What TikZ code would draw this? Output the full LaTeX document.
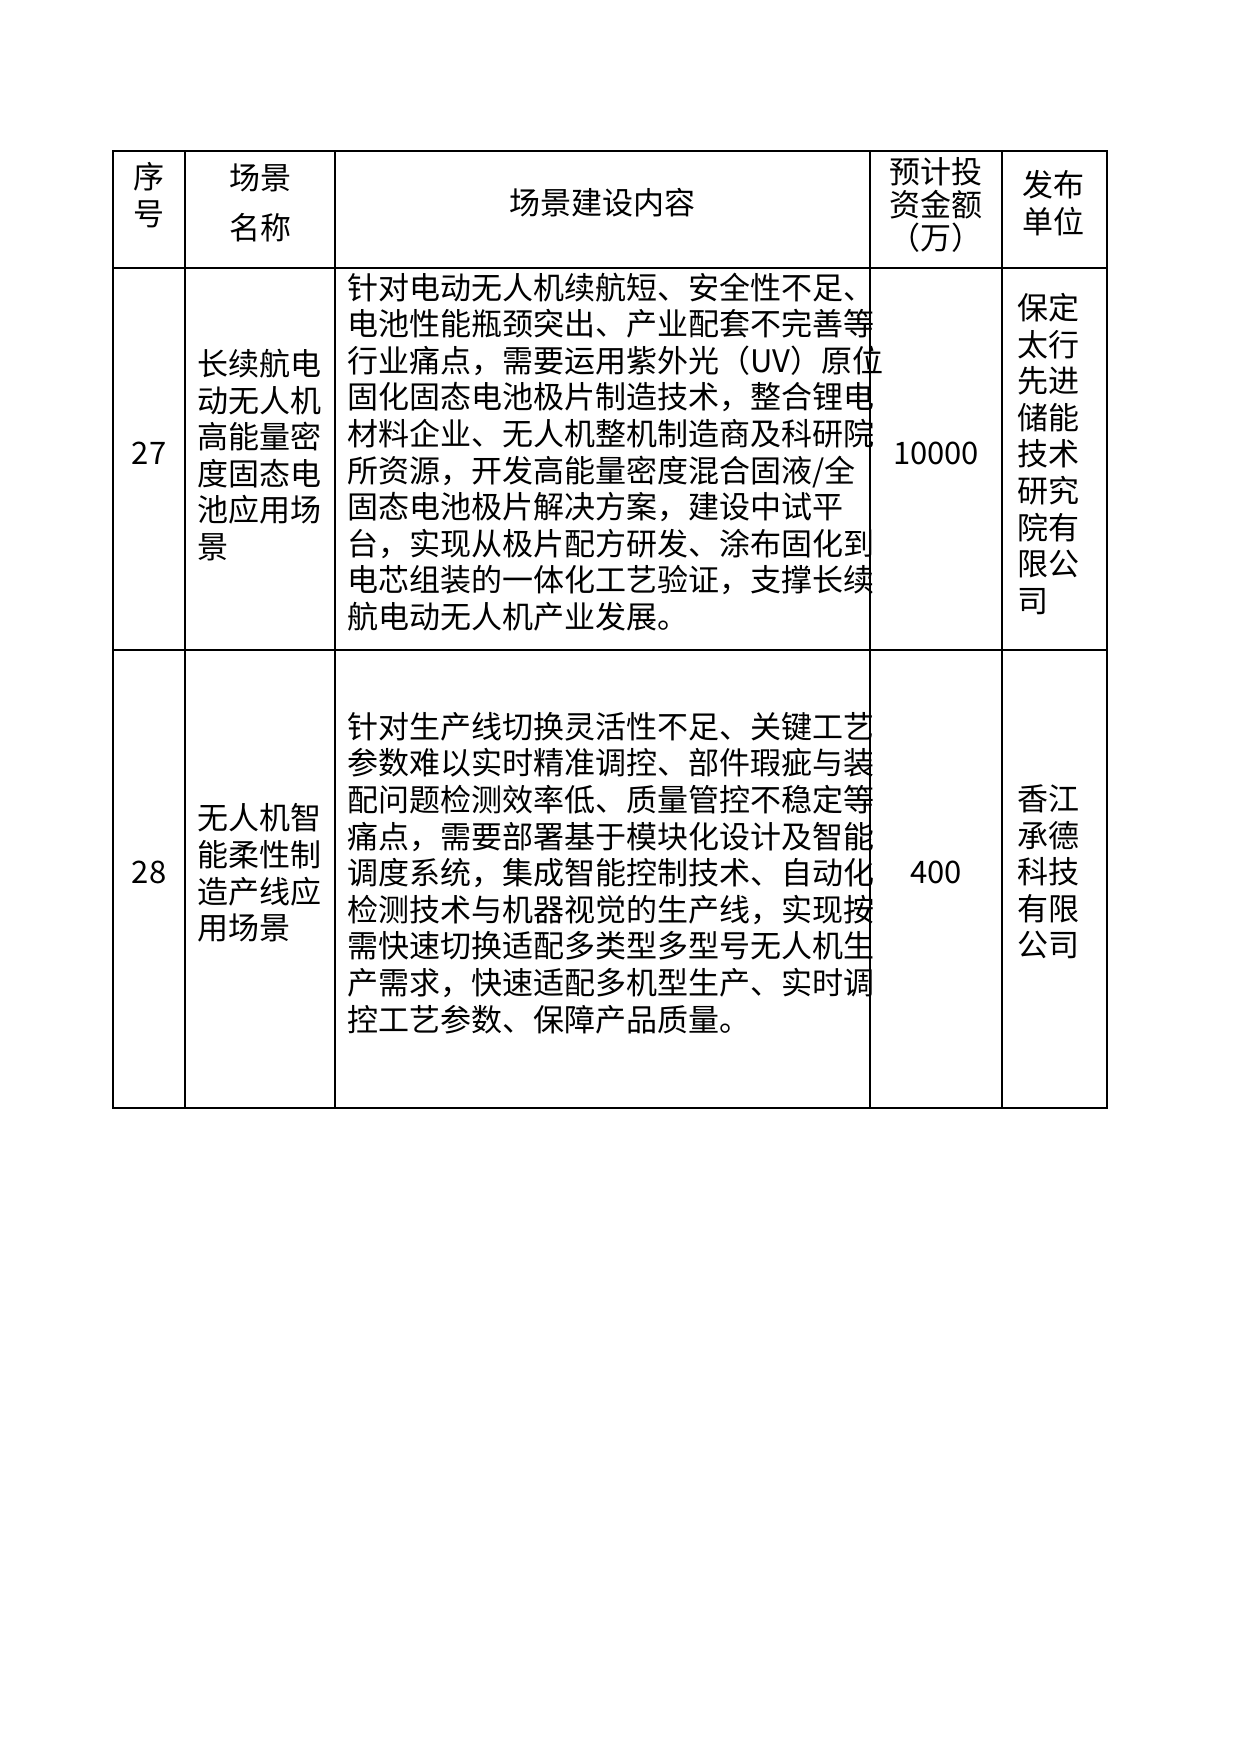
\documentclass[tikz,border=0pt]{standalone}
\usepackage{fontspec}
\setmainfont{Noto Sans CJK SC}
\begin{document}
\begin{tikzpicture}[x=0.5pt,y=-0.5pt,
  cell/.style={inner sep=0pt,font=\fontsize{15.5pt}{18.3pt}\selectfont},
  hd/.style={cell,align=center},
  body/.style={cell,align=left,anchor=west},
  grid/.style={line width=0.6pt}]
\useasboundingbox (0,0) rectangle (1240,1754);
\draw[grid] (113,151) rectangle (1107,1108);
\foreach \x in {185,335,870,1002} \draw[grid] (\x,151) -- (\x,1108);
\foreach \y in {268,650} \draw[grid] (113,\y) -- (1107,\y);
% header
\node[hd] (h1) at (149,195) {序\\号};
\node[hd,font=\fontsize{15.5pt}{25pt}\selectfont] (h2) at (260,203) {场景\\名称};
\node[hd] (h3) at (602,203) {场景建设内容};
\node[hd,font=\fontsize{15.5pt}{16.5pt}\selectfont] (h4) at (936,205) {预计投\\资金额\\（万）};
\node[hd] (h5) at (1053,203) {发布\\单位};
% row 27
\node[hd] (n1) at (149,453) {27};
\node[body] (a1) at (197,455) {长续航电\\动无人机\\高能量密\\度固态电\\池应用场\\景};
\node[body] (c1) at (347,452) {针对电动无人机续航短、安全性不足、\\电池性能瓶颈突出、产业配套不完善等\\行业痛点，需要运用紫外光（UV）原位\\固化固态电池极片制造技术，整合锂电\\材料企业、无人机整机制造商及科研院\\所资源，开发高能量密度混合固液/全\\固态电池极片解决方案，建设中试平\\台，实现从极片配方研发、涂布固化到\\电芯组装的一体化工艺验证，支撑长续\\航电动无人机产业发展。};
\node[hd] (m1) at (936,453) {10000};
\node[body] (u1) at (1017,454) {保定\\太行\\先进\\储能\\技术\\研究\\院有\\限公\\司};
% row 28
\node[hd] (n2) at (149,872) {28};
\node[body] (a2) at (197,873) {无人机智\\能柔性制\\造产线应\\用场景};
\node[body] (c2) at (347,873) {针对生产线切换灵活性不足、关键工艺\\参数难以实时精准调控、部件瑕疵与装\\配问题检测效率低、质量管控不稳定等\\痛点，需要部署基于模块化设计及智能\\调度系统，集成智能控制技术、自动化\\检测技术与机器视觉的生产线，实现按\\需快速切换适配多类型多型号无人机生\\产需求，快速适配多机型生产、实时调\\控工艺参数、保障产品质量。};
\node[hd] (m2) at (936,872) {400};
\node[body] (u2) at (1017,872) {香江\\承德\\科技\\有限\\公司};
\end{tikzpicture}
\end{document}
